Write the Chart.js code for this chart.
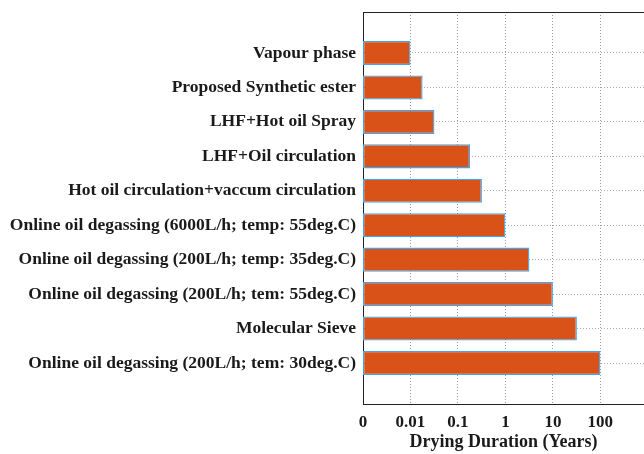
<!DOCTYPE html>
<html>
<head>
<meta charset="utf-8">
<script src="https://cdn.jsdelivr.net/npm/chart.js@4/dist/chart.umd.min.js"></script>
<style>
  html, body { margin: 0; padding: 0; background: #fff; }
  #wrap { width: 644px; height: 454px; position: relative; }
</style>
</head>
<body>
<div id="wrap"><canvas id="dryingChart"></canvas></div>
<script>
// Kurutma yöntemleri (yukarıdan aşağıya)
const methods = [
    'Vapour phase',
    'Proposed Synthetic ester',
    'LHF+Hot oil Spray',
    'LHF+Oil circulation',
    'Hot oil circulation+vaccum circulation',
    'Online oil degassing (6000L/h; temp: 55deg.C)',
    'Online oil degassing (200L/h; temp: 35deg.C)',
    'Online oil degassing (200L/h; tem: 55deg.C)',
    'Molecular Sieve',
    'Online oil degassing (200L/h; tem: 30deg.C)'
];

// Kurutma süresi (yıl)
const durationYears = [0.01, 0.018, 0.032, 0.18, 0.32, 1, 3.2, 10, 32, 100];

// Eksen işaretleri: "0" en alt sınırı (0.001) gösterir
const xTickValues = [0.001, 0.01, 0.1, 1, 10, 100];
const xTickLabels = ['0', '0.01', '0.1', '1', '10', '100'];

const serif = '"Liberation Serif", "Times New Roman", serif';
const textColor = '#1a1a1a';

// Üst çerçeve çizgisi
const topBorder = {
    id: 'topBorder',
    afterDraw(chart) {
        const { ctx, chartArea } = chart;
        ctx.save();
        ctx.strokeStyle = '#222';
        ctx.lineWidth = 1;
        ctx.beginPath();
        ctx.moveTo(chartArea.left, chartArea.top + 0.5);
        ctx.lineTo(chartArea.right, chartArea.top + 0.5);
        ctx.stroke();
        ctx.restore();
    }
};

const ctx = document.getElementById('dryingChart');
window.dryingChart = new Chart(ctx, {
    type: 'bar',
    data: {
        datasets: [{
            label: 'Drying Duration',
            data: durationYears.map((v, i) => ({ x: v, y: i })),
            backgroundColor: '#D95319',
            borderColor: '#3FA6F2',
            borderWidth: 1.3,
            borderSkipped: false,
            barPercentage: 0.7,
            categoryPercentage: 1
        }]
    },
    options: {
        indexAxis: 'y',
        responsive: true,
        maintainAspectRatio: false,
        animation: false,
        layout: { padding: { top: 12, right: 0, left: 0, bottom: 0 } },
        plugins: {
            legend: { display: false },
            tooltip: { enabled: false }
        },
        scales: {
            x: {
                type: 'logarithmic',
                min: 0.001,
                max: 830,
                afterBuildTicks: (scale) => {
                    scale.ticks = xTickValues.map(v => ({ value: v }));
                },
                afterFit: (scale) => {
                    scale.height = 50;
                    scale.paddingLeft = 0;
                    scale.paddingRight = 0;
                },
                ticks: {
                    autoSkip: false,
                    maxRotation: 0,
                    padding: 8,
                    color: textColor,
                    font: { family: serif, size: 17, weight: 'bold' },
                    callback: (value, index) => xTickLabels[index]
                },
                grid: {
                    color: '#9a9a9a',
                    drawTicks: false
                },
                border: { display: true, color: '#222', width: 1, dash: [1, 2] },
                title: {
                    display: true,
                    text: 'Drying Duration (Years)',
                    color: textColor,
                    font: { family: serif, size: 18, weight: 'bold' },
                    padding: { top: 0, bottom: 1 }
                }
            },
            y: {
                type: 'linear',
                reverse: true,
                offset: false,
                min: -1.19,
                max: 10.19,
                afterBuildTicks: (scale) => {
                    scale.ticks = methods.map((_, i) => ({ value: i }));
                },
                afterFit: (scale) => {
                    scale.width = 363;
                    scale.paddingTop = 0;
                    scale.paddingBottom = 0;
                },
                ticks: {
                    autoSkip: false,
                    padding: 11,
                    color: textColor,
                    font: { family: serif, size: 17.5, weight: 'bold' },
                    callback: (value) => methods[value]
                },
                grid: {
                    offset: false,
                    color: '#ababab',
                    drawTicks: true,
                    tickLength: -4,
                    tickColor: '#333',
                    tickWidth: 1,
                    tickBorderDash: []
                },
                border: { display: true, color: '#222', width: 1, dash: [1, 2] }
            }
        }
    },
    plugins: [topBorder]
});
</script>
</body>
</html>
